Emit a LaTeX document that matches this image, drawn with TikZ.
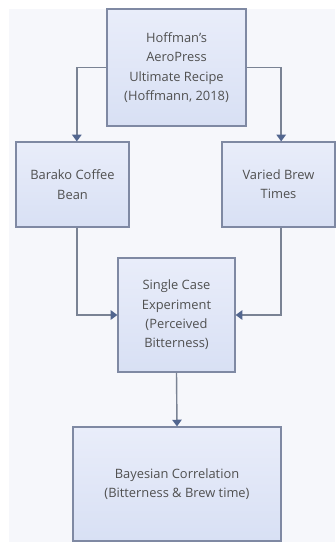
\documentclass[tikz,border=0pt]{standalone}
\usepackage{fontspec}
\setmainfont{Open Sans}
\usetikzlibrary{arrows.meta,positioning,calc}
\definecolor{boxline}{HTML}{7F89A3}
\definecolor{boxtop}{HTML}{E9EDFA}
\definecolor{boxbottom}{HTML}{D8E0F4}
\definecolor{arrowline}{HTML}{7A8394}
\definecolor{arrowtip}{HTML}{52668F}
\definecolor{canvas}{HTML}{F6F7FB}
\definecolor{labeltext}{HTML}{505050}
\tikzset{
  stagebox/.style={draw=boxline,line width=1pt,top color=boxtop,bottom color=boxbottom,
    align=center,inner sep=0pt,text=labeltext,font=\fontsize{11}{16.5}\selectfont},
  flowarrow/.style={-{Triangle[length=2mm,width=2.8mm,color=arrowtip]},draw=arrowline,line width=1.2pt}
}
\begin{document}
\begin{tikzpicture}[x=0.03cm,y=-0.03cm]
  \useasboundingbox (0,0) rectangle (335,542);
  \fill[canvas] (9,9) rectangle (335,542);
  \node[stagebox,minimum width=4.17cm,minimum height=3.51cm] (recipe) at (176.5,67.5)
    {Hoffman's\\AeroPress\\Ultimate Recipe\\(Hoffmann, 2018)};
  \node[stagebox,minimum width=3.39cm,minimum height=2.55cm] (bean) at (72.5,184.5)
    {Barako Coffee\\Bean};
  \node[stagebox,minimum width=3.39cm,minimum height=2.55cm] (times) at (278.5,184.5)
    {Varied Brew\\Times};
  \node[stagebox,minimum width=3.51cm,minimum height=3.42cm] (experiment) at (176.5,315)
    {Single Case\\Experiment\\(Perceived\\Bitterness)};
  \node[stagebox,minimum width=6.24cm,minimum height=3.42cm] (correlation) at (177,484)
    {Bayesian Correlation\\(Bitterness \& Brew time)};
  \draw[flowarrow] (recipe.west) -| ([xshift=0.13cm]bean.north);
  \draw[flowarrow] (recipe.east) -| ([xshift=0.08cm]times.north);
  \draw[flowarrow] ([xshift=0.13cm]bean.south) |- (experiment.west);
  \draw[flowarrow] ([xshift=0.08cm]times.south) |- (experiment.east);
  \draw[flowarrow] (experiment.south) -- (correlation.north);
\end{tikzpicture}
\end{document}
